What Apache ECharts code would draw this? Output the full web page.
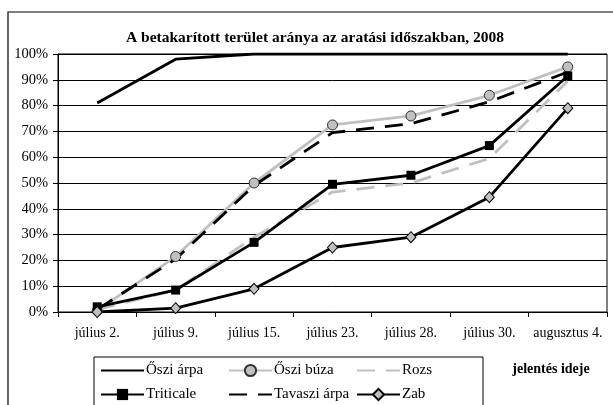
<!DOCTYPE html>
<html><head><meta charset="utf-8">
<script src="https://cdn.jsdelivr.net/npm/echarts@6/dist/echarts.min.js"></script>
<style>html,body{margin:0;padding:0;background:#fff}#c{width:613px;height:405px}</style>
</head><body><div id="c"></div>
<script>
const categories = ['július 2.','július 9.','július 15.','július 23.','július 28.','július 30.','augusztus 4.'];
const osziArpa = [81, 98, 100, 100, 100, 100, 100];
const osziBuza = [0.5, 21.5, 50, 72.5, 76, 84, 95];
const rozs = [1, 8.5, 29, 46.5, 50, 59.5, 89.5];
const triticale = [2, 8.5, 27, 49.5, 53, 64.5, 91.5];
const tavasziArpa = [1, 20.5, 49, 69.5, 73, 81.5, 93];
const zab = [0, 1.5, 9, 25, 29, 44.5, 79];
const yTicks = [0,10,20,30,40,50,60,70,80,90,100];

const FONT = 'Liberation Serif';
const chart = echarts.init(document.getElementById('c'));
const legendText = {fontFamily: FONT, fontSize: 15, color: '#000', padding: [0, 0, 0, -3]};
const noSym = {opacity: 0};
const legendBase = {orient: 'vertical', top: 363, itemWidth: 43, itemHeight: 14, itemGap: 9, padding: 0, textStyle: legendText};
const LW = 2.8;
chart.setOption({
  animation: false,
  backgroundColor: '#fff',
  title: {
    text: 'A betakarított terület aránya az aratási időszakban, 2008',
    left: 310, top: 25, textAlign: 'center',
    textStyle: {fontFamily: FONT, fontSize: 15.5, fontWeight: 'bold', color: '#000'}
  },
  graphic: [
    {type: 'rect', z: -10, shape: {x: 8, y: 12, width: 612, height: 420}, style: {fill: 'none', stroke: '#000', lineWidth: 1.2}},
    {type: 'rect', z: 0, shape: {x: 94, y: 357, width: 389, height: 60}, style: {fill: 'none', stroke: '#000', lineWidth: 1}},
    {type: 'text', x: 551, y: 369, style: {text: 'jelentés ideje', fontFamily: FONT, fontSize: 14, fontWeight: 'bold', fill: '#000', align: 'center', verticalAlign: 'middle'}}
  ],
  legend: [
    Object.assign({left: 100, data: [{name: 'Őszi árpa', itemStyle: noSym}, 'Triticale']}, legendBase),
    Object.assign({left: 228, data: ['Őszi búza', {name: 'Tavaszi árpa', itemStyle: noSym}]}, legendBase),
    Object.assign({left: 356, data: [{name: 'Rozs', itemStyle: noSym}, 'Zab']}, legendBase)
  ],
  grid: {left: 58, right: 6, top: 54, height: 258, show: true, borderColor: '#000', borderWidth: 1, backgroundColor: '#fff'},
  xAxis: {
    type: 'category', data: categories, boundaryGap: true,
    axisLine: {lineStyle: {color: '#000', width: 1}},
    axisTick: {show: true, length: 5, lineStyle: {color: '#000'}},
    axisLabel: {fontFamily: FONT, fontSize: 14, color: '#000', margin: 14, interval: 0}
  },
  yAxis: {
    type: 'value', min: yTicks[0], max: yTicks[yTicks.length-1], interval: 10,
    axisLine: {show: true, lineStyle: {color: '#000', width: 1}},
    axisTick: {show: true, length: 5, lineStyle: {color: '#000'}},
    splitLine: {show: true, lineStyle: {color: '#000', width: 1}},
    axisLabel: {fontFamily: FONT, fontSize: 14.5, color: '#000', margin: 10, formatter: '{value}%'}
  },
  series: [
    {name: 'Őszi árpa', type: 'line', data: osziArpa, symbol: 'none', color: '#000', lineStyle: {color: '#000', width: LW}},
    {name: 'Őszi búza', type: 'line', data: osziBuza, symbol: 'circle', symbolSize: 10, color: '#c0c0c0',
      lineStyle: {color: '#c0c0c0', width: LW}, itemStyle: {color: '#c0c0c0', borderColor: '#333', borderWidth: 1}},
    {name: 'Rozs', type: 'line', data: rozs, symbol: 'none', color: '#c0c0c0', lineStyle: {color: '#c0c0c0', width: LW, type: [18, 11]}},
    {name: 'Triticale', type: 'line', data: triticale, symbol: 'rect', symbolSize: 9, color: '#000',
      lineStyle: {color: '#000', width: LW}, itemStyle: {color: '#000'}},
    {name: 'Tavaszi árpa', type: 'line', data: tavasziArpa, symbol: 'none', color: '#000', lineStyle: {color: '#000', width: LW, type: [18, 11]}},
    {name: 'Zab', type: 'line', data: zab, symbol: 'diamond', symbolSize: [10, 11], color: '#c0c0c0',
      lineStyle: {color: '#000', width: LW}, itemStyle: {color: '#c0c0c0', borderColor: '#000', borderWidth: 1}}
  ]
});
</script></body></html>
